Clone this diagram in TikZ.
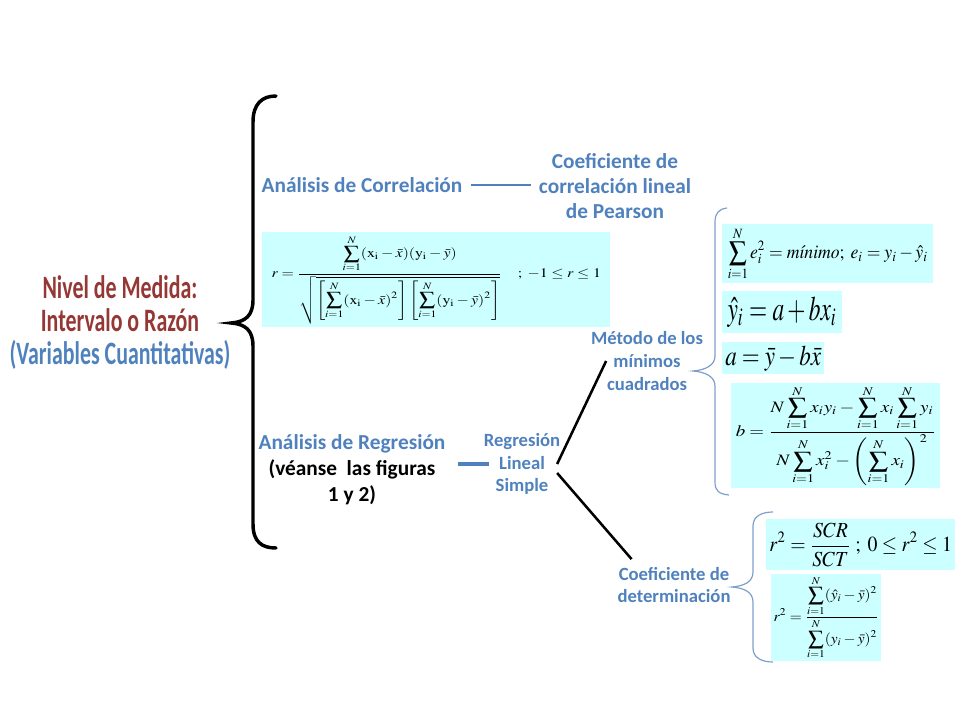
\documentclass[tikz,border=0pt]{standalone}
\usepackage{mathptmx}
\usepackage[no-math]{fontspec}
\setmainfont{Carlito}
\newfontfamily\titlefont[FakeStretch=0.67]{Carlito}
\usepackage{graphicx}
\usepackage{xcolor}
\usetikzlibrary{positioning,calc}

\definecolor{labelblue}{HTML}{4F81BD}
\definecolor{titlered}{HTML}{953735}
\definecolor{titleblue}{HTML}{4F81BD}
\definecolor{formulafill}{HTML}{CCFFFF}
\definecolor{bracegray}{HTML}{7F9FCB}

\begin{document}
\begin{tikzpicture}[
			x=0.75pt, y=-0.75pt,
			titletext/.style={align=center, inner sep=2pt, font=\titlefont\bfseries\fontsize{24.5}{24.75}\selectfont},
			bluetext/.style={align=center, inner sep=2pt, text=labelblue, font=\bfseries\fontsize{16}{19.2}\selectfont},
			smalltext/.style={align=center, inner sep=2pt, text=labelblue, font=\bfseries\fontsize{14}{17}\selectfont},
			formula/.style={anchor=north west, fill=formulafill, inner sep=0pt},
			bigbrace/.style={line width=2.6pt, line cap=round, black},
			thinbrace/.style={line width=0.9pt, bracegray},
			link/.style={line width=0.8pt, labelblue},
			regline/.style={line width=2.3pt, labelblue},
			branch/.style={line width=1.9pt, black}
			]
			\useasboundingbox (0,0) rectangle (960,720);
			
			% Title
			\node[titletext] (nivel) at (120,323) {\textcolor{titlered}{Nivel de Medida:}\\ \textcolor{titlered}{Intervalo o Razón}\\ \textcolor{titleblue}{(Variables Cuantitativas)}};
			
			% Big brace
			\draw[bigbrace] (276,96) .. controls (262,96) and (253,104) .. (253,122) -- (253,300) .. controls (253,316) and (245,322) .. (231,323) .. controls (245,324) and (253,330) .. (253,346) -- (253,524) .. controls (253,542) and (262,548) .. (276,548);
			
			% Correlation branch
			\node[bluetext] (corr) at (362,185) {Análisis de Correlación};
			\node[bluetext, font=\bfseries\fontsize{16}{19}\selectfont] (pearson) at (615,186) {Coeficiente de\\ correlación lineal\\ de Pearson};
			\node[formula, minimum width=261pt, minimum height=71.25pt] (rbox) at (262,232) {\resizebox*{247pt}{66pt}{$\displaystyle r=\frac{\displaystyle\sum_{i=1}^{N}(\mathrm{x}_{\mathrm{i}}-\bar{x})(\mathrm{y}_{\mathrm{i}}-\bar{y})}{\sqrt{\left[\displaystyle\sum_{i=1}^{N}(\mathrm{x}_{\mathrm{i}}-\bar{x})^{2}\right]\left[\displaystyle\sum_{i=1}^{N}(\mathrm{y}_{\mathrm{i}}-\bar{y})^{2}\right]}}\quad;\ -1\le r\le 1$}};
			
			% Regression branch
			\node[bluetext, font=\bfseries\fontsize{16}{19.5}\selectfont] (reg) at (352,470) {Análisis de Regresión\\ \textcolor{black}{(véanse\ \ las figuras}\\ \textcolor{black}{1 y 2)}};
			\node[smalltext] (simple) at (522,464) {Regresión\\ Lineal\\ Simple};
			\node[smalltext] (metodo) at (647,361) {Método de los\\ mínimos\\ cuadrados};
			\node[smalltext] (deter) at (674,585) {Coeficiente de\\ determinación};
			
			% Least squares formulas
			\node[formula, minimum width=158.25pt, minimum height=44.25pt] (ebox) at (722,224) {\resizebox*{150pt}{40pt}{$\displaystyle \sum_{i=1}^{N}e_i^2=m\acute{\imath}nimo;\ e_i=y_i-\hat{y}_i$}};
			\node[formula, minimum width=90pt, minimum height=31.5pt] (yhatbox) at (722,291) {\resizebox*{82pt}{23pt}{$\hat{y}_i=a+bx_i$}};
			\node[formula, minimum width=76.5pt, minimum height=24pt] (abox) at (722,342) {\resizebox*{72pt}{19pt}{$a=\bar{y}-b\bar{x}$}};
			\node[formula, minimum width=156.75pt, minimum height=78.75pt] (bbox) at (731,383) {\resizebox*{150pt}{75pt}{$\displaystyle b=\frac{\displaystyle N\sum_{i=1}^{N}x_iy_i-\sum_{i=1}^{N}x_i\sum_{i=1}^{N}y_i}{\displaystyle N\sum_{i=1}^{N}x_i^2-\left(\sum_{i=1}^{N}x_i\right)^2}$}};
			
			% Determination formulas
			\node[formula, minimum width=141.75pt, minimum height=38.25pt] (rtwobox) at (766,519) {\resizebox*{137pt}{33pt}{$\displaystyle r^2=\frac{SCR}{SCT}\ ;\ 0\le r^2\le 1$}};
			\node[formula, minimum width=82.5pt, minimum height=65.25pt] (rtwobbox) at (771,574) {\resizebox*{79pt}{62pt}{$\displaystyle r^2=\frac{\displaystyle\sum_{i=1}^{N}(\hat{y}_i-\bar{y})^2}{\displaystyle\sum_{i=1}^{N}(y_i-\bar{y})^2}$}};
			
			% Thin braces
			\draw[thinbrace] (727,208) .. controls (719,209) and (715,213) .. (715,222) -- (715,356) .. controls (715,365) and (706,370) .. (693,371) .. controls (706,372) and (715,377) .. (715,386) -- (715,482) .. controls (715,491) and (719,494) .. (729,495);
			\draw[thinbrace] (773,512) .. controls (762,512) and (753,516) .. (753,526) -- (753,572) .. controls (753,582) and (744,586) .. (732,587) .. controls (744,588) and (753,592) .. (753,602) -- (753,648) .. controls (753,658) and (762,662) .. (773,662);
			
			% Lines
			\draw[link, shorten <=4pt, shorten >=4pt] (corr.east) -- (corr.east -| pearson.west);
			\draw[regline, shorten <=7.5pt, shorten >=-6pt] (reg.east |- simple) -- (simple.west);
			\draw[branch] ($(simple.east)+(-6,0)$) -- ($(metodo.west)+(18,0)$);
			\draw[branch] ($(simple.east)+(-6,9)$) -- ($(deter.north west)+(17,-5)$);
			
		\end{tikzpicture}
\end{document}
